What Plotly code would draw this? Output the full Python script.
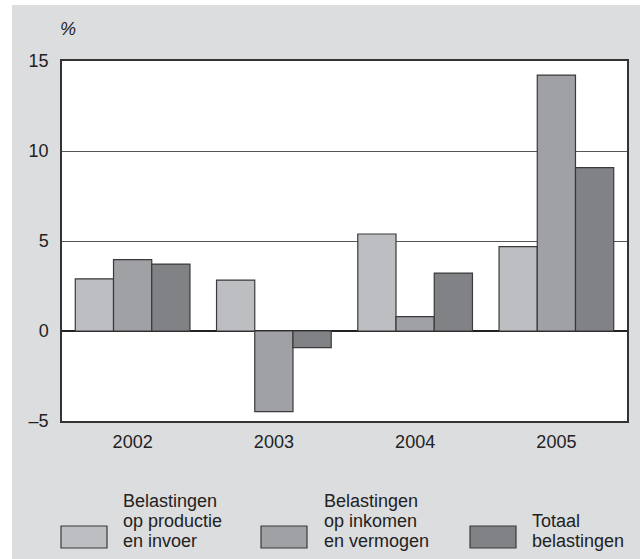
import plotly.graph_objects as go

# data
years = ['2002', '2003', '2004', '2005']
productie = [2.9, 2.83, 5.39, 4.69]
inkomen = [3.97, -4.48, 0.8, 14.22]
totaal = [3.72, -0.92, 3.22, 9.08]

series_names = [
    ['Belastingen', 'op productie', 'en invoer'],
    ['Belastingen', 'op inkomen', 'en vermogen'],
    ['Totaal', 'belastingen'],
]
series_values = [productie, inkomen, totaal]
series_colors = ['#bdbec2', '#a0a1a5', '#818286']

y_ticks = [-5, 0, 5, 10, 15]
y_ticktext = ['\u20135', '0', '5', '10', '15']

W, H = 640, 559
L, R, T, B = 62, 13, 61, 138
FONT = 'Liberation Sans, Arial, sans-serif'


def px_x(x):
    # pixel -> paper x
    return (x - L) / (W - L - R)


def px_y(y):
    # pixel -> paper y
    return (H - B - y) / (H - T - B)


fig = go.Figure()
for names, vals, col in zip(series_names, series_values, series_colors):
    fig.add_trace(go.Bar(
        x=years, y=vals, name=' '.join(names),
        marker=dict(color=col, line=dict(color='#3a3a3a', width=1.2)),
        showlegend=False,
    ))

shapes = [
    # white strips outside the grey panel
    dict(type='rect', xref='paper', yref='paper', x0=px_x(0), x1=px_x(12), y0=px_y(H), y1=px_y(0),
         fillcolor='white', line=dict(width=0), layer='below'),
    dict(type='rect', xref='paper', yref='paper', x0=px_x(0), x1=px_x(W), y0=px_y(5), y1=px_y(0),
         fillcolor='white', line=dict(width=0), layer='below'),
]
annotations = [
    dict(text='<i>%</i>', x=px_x(68), y=px_y(29), xref='paper', yref='paper',
         xanchor='center', yanchor='middle',
         showarrow=False, font=dict(size=18, color='#222', family=FONT)),
]

# hand-made legend
legend_swatch_x = [61, 261, 470]
legend_text_x = [121, 322, 530]
for i, names in enumerate(series_names):
    shapes.append(dict(type='rect', xref='paper', yref='paper',
                       x0=px_x(legend_swatch_x[i]), x1=px_x(legend_swatch_x[i] + 46),
                       y0=px_y(548), y1=px_y(526),
                       fillcolor=series_colors[i], line=dict(color='#3a3a3a', width=1.2)))
    for j, line in enumerate(reversed(names)):
        annotations.append(dict(text=line, x=px_x(legend_text_x[i]), y=px_y(541 - 20 * j),
                                xref='paper', yref='paper', xanchor='left', yanchor='middle',
                                showarrow=False, font=dict(size=18, color='#222', family=FONT)))

fig.update_layout(
    width=W, height=H,
    margin=dict(l=L, r=R, t=T, b=B),
    paper_bgcolor='#dcdddf', plot_bgcolor='white',
    barmode='group', bargap=0.188, bargroupgap=0,
    font=dict(family=FONT, size=18, color='#222'),
    shapes=shapes, annotations=annotations,
)
fig.update_xaxes(showline=True, linecolor='#333', linewidth=1.5, mirror=True,
                 ticks='', ticklabelstandoff=4, showgrid=False)
fig.update_yaxes(range=[-5, 15], tickvals=y_ticks, ticktext=y_ticktext,
                 showline=True, linecolor='#333', linewidth=1.5, mirror=True,
                 showgrid=True, gridcolor='#555', gridwidth=1,
                 zeroline=True, zerolinecolor='#222', zerolinewidth=1.5,
                 ticks='', ticklabelstandoff=8)

# drop the default body margin so the figure sits at the window corner
fig.write_html("out.html", config={'displayModeBar': False},
               post_script="document.body.style.margin='0';")
